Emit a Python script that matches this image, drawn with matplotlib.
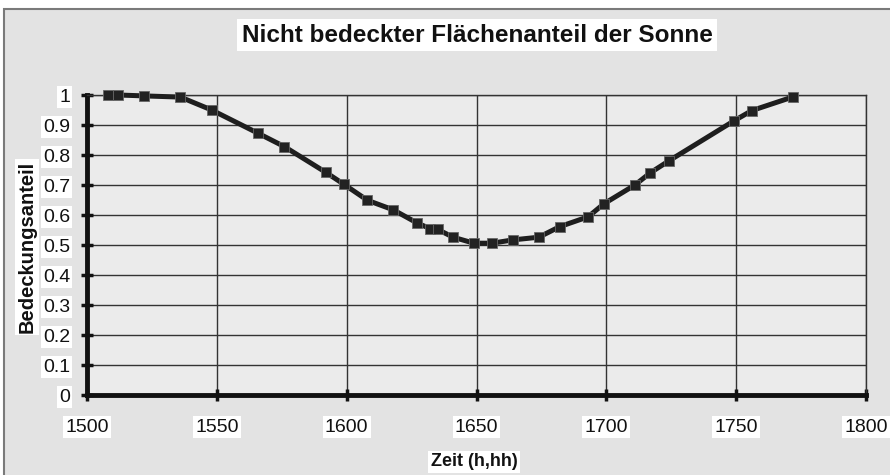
import matplotlib
matplotlib.use("Agg")
import matplotlib.pyplot as plt
from matplotlib.patches import Rectangle
from matplotlib.ticker import MultipleLocator, FuncFormatter

# Zeitpunkte (h,hh) und nicht bedeckter Anteil
zeit = [1508, 1512, 1522, 1536, 1548, 1566, 1576, 1592, 1599, 1608, 1618,
        1627, 1632, 1635, 1641, 1649, 1656, 1664, 1674, 1682, 1693, 1699,
        1711, 1717, 1724, 1749, 1756, 1772]
anteil = [1.0, 1.0, 0.997, 0.993, 0.95, 0.872, 0.828, 0.742, 0.702, 0.649,
          0.617, 0.574, 0.555, 0.552, 0.526, 0.506, 0.506, 0.517, 0.526,
          0.561, 0.594, 0.637, 0.70, 0.741, 0.78, 0.913, 0.948, 0.994]

titel = "Nicht bedeckter Flächenanteil der Sonne"
x_titel = "Zeit (h,hh)"
y_titel = "Bedeckungsanteil"

plt.rcParams['font.family'] = ['Liberation Sans', 'DejaVu Sans']

fig = plt.figure(figsize=(8.9, 4.75), dpi=100, facecolor='white')

# Hintergrund / Rahmen des Diagrammbereichs
fig.patches.append(Rectangle((4 / 890, -0.05), 1.2, 1 - 9 / 475 + 0.05,
                             transform=fig.transFigure, facecolor='#e3e3e3',
                             edgecolor='#7a7a7a', linewidth=1.5, zorder=-5))

ax = fig.add_axes([87 / 890, 80 / 475, 779 / 890, 300 / 475])
ax.set_zorder(2)
ax.set_facecolor('#ebebeb')

ax.plot(zeit, anteil, color='#1e1e1e', linewidth=3.6, marker='s',
        markersize=7, markerfacecolor='#222222', markeredgecolor='#666666',
        markeredgewidth=0.6, clip_on=False, zorder=3)

ax.set_xlim(1500, 1800)
ax.set_ylim(0, 1)
ax.xaxis.set_major_locator(MultipleLocator(50))
ax.yaxis.set_major_locator(MultipleLocator(0.1))
ax.yaxis.set_major_formatter(FuncFormatter(lambda v, p: f"{v:.1f}".rstrip('0').rstrip('.') if v else "0"))

ax.grid(True, color='#333333', linewidth=1.0)
ax.set_axisbelow(True)

for s in ['top', 'right']:
    ax.spines[s].set_color('#333333')
    ax.spines[s].set_linewidth(1.0)
for s in ['left', 'bottom']:
    ax.spines[s].set_color('#111111')
    ax.spines[s].set_linewidth(3.5)

ax.tick_params(axis='both', direction='inout', length=8, width=2.5,
               color='#111111', labelsize=14, labelcolor='#111111')
ax.tick_params(axis='x', pad=13)
ax.tick_params(axis='y', pad=8)

for lab in ax.get_xticklabels() + ax.get_yticklabels():
    lab.set_bbox(dict(facecolor='white', edgecolor='none', pad=1.5))

fig.text(0.536, 1 - 35 / 475, titel, ha='center', va='center', fontsize=17.5,
         fontweight='bold', color='#111111',
         bbox=dict(facecolor='white', edgecolor='none', pad=3))
fig.text(474 / 890, 1 - 462 / 475, x_titel, ha='center', va='center',
         fontsize=13, fontweight='bold', color='#111111',
         bbox=dict(facecolor='white', edgecolor='none', pad=1.5))
fig.text(27 / 890, 1 - 247 / 475, y_titel, ha='center', va='center',
         rotation=90, fontsize=14.5, fontweight='bold', color='#111111',
         bbox=dict(facecolor='white', edgecolor='none', pad=1.5))

fig.savefig('out.png', dpi=100, facecolor='white')
